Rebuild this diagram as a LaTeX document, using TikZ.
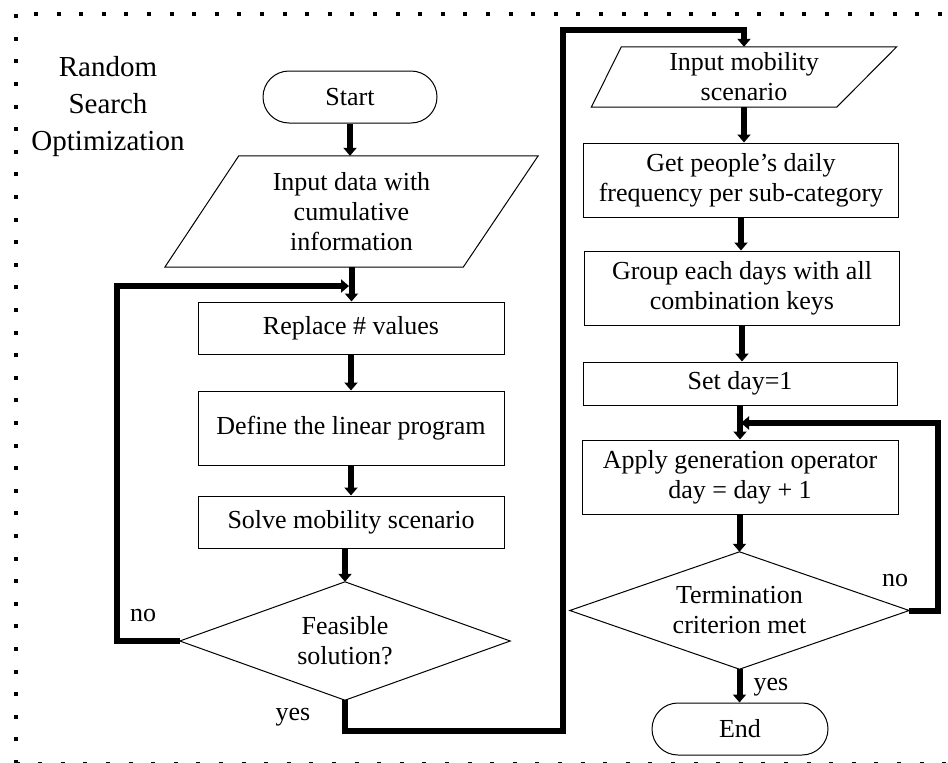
\documentclass[tikz,border=0pt]{standalone}
\usepackage{fontspec}
\setmainfont{Liberation Serif}
\usetikzlibrary{arrows.meta,shapes.geometric}
\begin{document}
\begin{tikzpicture}[x=1pt,y=-1pt,
  every node/.style={font=\fontsize{26}{30}\selectfont},
  box/.style={draw, line width=1pt, inner sep=0pt, align=center},
  termbox/.style={draw, line width=1pt, rounded corners=26pt, inner sep=0pt},
  io/.style={inner sep=0pt, align=center},
  iopoly/.style={draw, line width=1pt},
  arr/.style={line width=6pt, -{Triangle[length=8pt,width=13pt]}},
  lbl/.style={inner sep=0pt},
  dotline/.style={line width=4pt, dash pattern=on 4pt off 18.6pt}
]
\useasboundingbox (0,0) rectangle (948,763);

% border
\draw[dotline] (15.5,764) -- (15.5,14) -- (952,14);
\draw[dotline] (15.5,764) -- (952,764);

% title
\node[font=\fontsize{29}{37}\selectfont, align=center] (title) at (108,107) {Random\\Search\\Optimization};

% left column
\node[termbox, minimum width=174pt, minimum height=52pt] (start) at (350,97) {Start};
\node[io, minimum width=373pt, minimum height=111pt] (in1) at (351.5,211.5) {Input data with\\cumulative\\information};
\draw[iopoly] ([xshift=74pt]in1.north west) -- (in1.north east) -- ([xshift=-75pt]in1.south east) -- (in1.south west) -- cycle;
\node[box, minimum width=306pt, minimum height=52pt] (rep) at (351,328) {Replace \# values};
\node[box, minimum width=306pt, minimum height=74pt] (def) at (351,428) {Define the linear program};
\node[box, minimum width=306pt, minimum height=52pt] (sol) at (351,522) {Solve mobility scenario};
\node[io, minimum width=330pt, minimum height=118pt] (feas) at (345,641) {Feasible\\solution?};
\draw[iopoly] (feas.north) -- (feas.east) -- (feas.south) -- (feas.west) -- cycle;

% right column
\node[io, minimum width=305pt, minimum height=60pt] (in2) at (744,77) {Input mobility\\scenario};
\draw[iopoly] ([xshift=30pt]in2.north west) -- (in2.north east) -- ([xshift=-60pt]in2.south east) -- (in2.south west) -- cycle;
\node[box, minimum width=315pt, minimum height=74pt] (get) at (741,180) {Get people’s daily\\frequency per sub-category};
\node[box, minimum width=315pt, minimum height=74pt] (grp) at (742,288) {Group each days with all\\combination keys};
\node[box, minimum width=314pt, minimum height=43pt] (set) at (740,383.5) {Set day=1};
\node[box, minimum width=316pt, minimum height=74pt] (app) at (740,477) {Apply generation operator\\day = day + 1};
\node[io, minimum width=339pt, minimum height=117pt] (trm) at (739.5,610.5) {Termination\\criterion met};
\draw[iopoly] (trm.north) -- (trm.east) -- (trm.south) -- (trm.west) -- cycle;
\node[termbox, minimum width=176pt, minimum height=52pt] (fin) at (740,729) {End};

% labels
\node[lbl] (no1) at (143,615) {no};
\node[lbl] (yes1) at (293,717) {yes};
\node[lbl] (no2) at (895,580) {no};
\node[lbl] (yes2) at (771,687) {yes};

% connectors
\coordinate (lx) at (117,0);
\coordinate (j1) at (349,286);
\coordinate (ya) at (0,731);
\coordinate (yb) at (563,30);
\coordinate (rx) at (938,0);
\coordinate (j2) at (741,423);

\draw[arr] (start.south) -- (start.south |- in1.north);
\draw[arr] (in1.south) -- (in1.south |- rep.north);
\draw[arr] (feas.west) -- (feas.west -| lx) |- (j1);
\draw[arr] (rep.south) -- (def.north);
\draw[arr] (def.south) -- (sol.north);
\draw[arr] (sol.south -| feas.north) -- (feas.north);
\draw[arr] (feas.south) -- (feas.south |- ya) -| (yb) -| (in2.north);

\draw[arr] (in2.south) -- (in2.south |- get.north);
\draw[arr] (get.south) -- (get.south |- grp.north);
\draw[arr] (grp.south) -- (grp.south |- set.north);
\draw[arr] (set.south) -- (set.south |- app.north);
\draw[arr] (app.south -| trm.north) -- (trm.north);
\draw[arr] (trm.east) -- (trm.east -| rx) |- (j2);
\draw[arr] (trm.south) -- (trm.south |- fin.north);
\end{tikzpicture}
\end{document}
